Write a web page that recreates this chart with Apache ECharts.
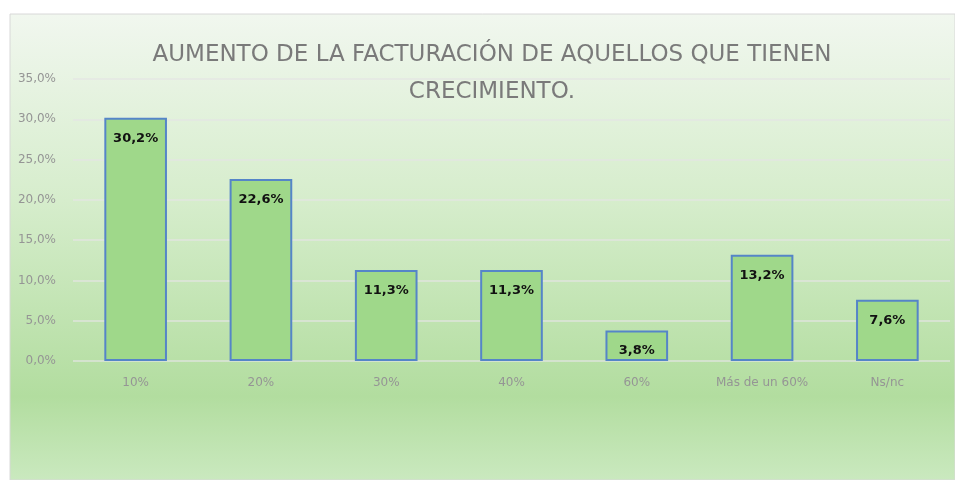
<!DOCTYPE html>
<html>
<head>
<meta charset="utf-8">
<script src="https://cdn.jsdelivr.net/npm/echarts@6/dist/echarts.min.js"></script>
<style>
  html, body { margin: 0; padding: 0; background: #fff; }
  #chart { width: 955px; height: 480px; }
</style>
</head>
<body>
<div id="chart"></div>
<script>
// datos
var categorias = ['10%', '20%', '30%', '40%', '60%', 'Más de un 60%', 'Ns/nc'];
var valores = [30.2, 22.6, 11.3, 11.3, 3.8, 13.2, 7.6];

var TITULO = 'AUMENTO DE LA FACTURACIÓN DE AQUELLOS QUE TIENEN\nCRECIMIENTO.';
var GRIS = '#959595';
var FUENTE = '"DejaVu Sans", sans-serif';

var coma = function (v, dec) {
    return v.toFixed(dec).replace('.', ',') + '%';
};

var chart = echarts.init(document.getElementById('chart'));

chart.setOption({
    animation: false,
    graphic: [{
        type: 'rect',
        z: -10,
        silent: true,
        shape: { x: 10, y: 14, width: 945, height: 466 },
        style: {
            stroke: '#d8d8d8',
            lineWidth: 1,
            fill: new echarts.graphic.LinearGradient(0, 0, 0, 1, [
                { offset: 0, color: '#f1f7ef' },
                { offset: 0.4, color: '#d6edcc' },
                { offset: 0.82, color: '#b2dd9f' },
                { offset: 1, color: '#cae9bf' }
            ])
        }
    }],
    title: {
        text: TITULO,
        left: 487,
        textAlign: 'center',
        top: 32,
        textStyle: {
            fontFamily: FUENTE,
            fontWeight: 'normal',
            fontSize: 23,
            lineHeight: 37,
            color: '#7a7a7a'
        }
    },
    grid: {
        left: 73,
        right: 5,
        top: 79,
        bottom: 119
    },
    xAxis: {
        type: 'category',
        data: categorias,
        axisLine: { show: false },
        axisTick: { show: false },
        axisLabel: {
            color: GRIS,
            fontSize: 12,
            fontFamily: FUENTE,
            margin: 16
        }
    },
    yAxis: {
        type: 'value',
        min: 0,
        max: 35,
        interval: 5,
        axisLine: { show: false },
        axisTick: { show: false },
        splitLine: { lineStyle: { color: 'rgba(228,228,228,0.85)', width: 1.5 } },
        axisLabel: {
            color: GRIS,
            fontSize: 12,
            fontFamily: FUENTE,
            margin: 17,
            formatter: function (v) { return coma(v, 1); }
        }
    },
    series: [{
        type: 'bar',
        data: valores,
        barWidth: '50%',
        itemStyle: {
            color: '#9fd88a',
            borderColor: '#5585c8',
            borderWidth: 2
        },
        label: {
            show: true,
            position: 'insideTop',
            distance: 14,
            color: '#111',
            fontWeight: 'bold',
            fontSize: 13,
            fontFamily: FUENTE,
            formatter: function (p) { return coma(p.value, 1); }
        }
    }]
});
</script>
</body>
</html>
